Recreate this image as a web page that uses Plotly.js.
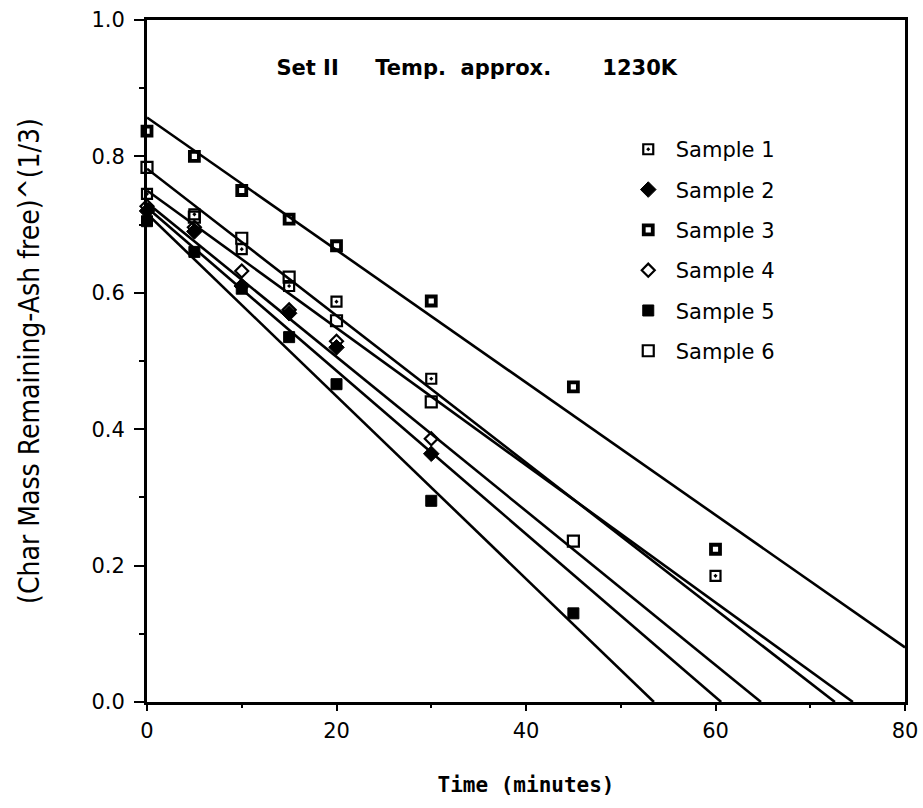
<!DOCTYPE html>
<html>
<head>
<meta charset="utf-8">
<script src="https://cdn.plot.ly/plotly-3.0.1.min.js"></script>
<style>html,body{margin:0;padding:0;background:#fff;}#chart{width:923px;height:808px;}</style>
</head>
<body>
<div id="chart"></div>
<script>
// ---- data ----
const sampleNames = ["Sample 1", "Sample 2", "Sample 3", "Sample 4", "Sample 5", "Sample 6"];

const s1Time = [0, 5, 10, 15, 20, 30, 60];
const s1Val  = [0.745, 0.715, 0.664, 0.61, 0.587, 0.474, 0.185];

const s2Time = [0, 5, 10, 15, 20, 30];
const s2Val  = [0.72, 0.69, 0.61, 0.57, 0.52, 0.364];

const s3Time = [0, 5, 10, 15, 20, 30, 45, 60];
const s3Val  = [0.837, 0.80, 0.75, 0.708, 0.669, 0.588, 0.462, 0.224];

const s4Time = [0, 5, 10, 15, 20, 30];
const s4Val  = [0.727, 0.696, 0.632, 0.575, 0.529, 0.386];

const s5Time = [0, 5, 10, 15, 20, 30, 45];
const s5Val  = [0.705, 0.66, 0.606, 0.535, 0.466, 0.295, 0.13];

const s6Time = [0, 5, 10, 15, 20, 30, 45];
const s6Val  = [0.784, 0.711, 0.68, 0.623, 0.559, 0.44, 0.236];

// fitted straight lines: [start, end] in time and value
const fit1Time = [0, 74.5]; const fit1Val = [0.75, 0];
const fit2Time = [0, 60.6]; const fit2Val = [0.725, 0];
const fit3Time = [0, 80];   const fit3Val = [0.857, 0.08];
const fit4Time = [0, 64.8]; const fit4Val = [0.732, 0];
const fit5Time = [0, 53.5]; const fit5Val = [0.716, 0];
const fit6Time = [0, 72.6]; const fit6Val = [0.782, 0];

const xTicks = [0, 20, 40, 60, 80];
const yTicks = [0.0, 0.2, 0.4, 0.6, 0.8, 1.0];
const yTickText = ["0.0", "0.2", "0.4", "0.6", "0.8", "1.0"];

// ---- styling ----
const ink = "#000000";
const fitTimes = [fit1Time, fit2Time, fit3Time, fit4Time, fit5Time, fit6Time];
const fitVals  = [fit1Val, fit2Val, fit3Val, fit4Val, fit5Val, fit6Val];
const ptTimes = [s1Time, s2Time, s3Time, s4Time, s5Time, s6Time];
const ptVals  = [s1Val, s2Val, s3Val, s4Val, s5Val, s6Val];
const markerStyles = [
  {symbol: "square-open-dot", size: 10, color: ink, line: {color: ink, width: 2.2}},
  {symbol: "diamond", size: 12, color: ink, line: {color: ink, width: 1}},
  {symbol: "square-open", size: 9, color: ink, line: {color: ink, width: 3.8}},
  {symbol: "diamond-open", size: 10, color: ink, line: {color: ink, width: 2.2}},
  {symbol: "square", size: 11, color: ink, line: {color: ink, width: 1}},
  {symbol: "square-open", size: 11, color: ink, line: {color: ink, width: 2.2}}
];

const traces = [];
for (let i = 0; i < 6; i++) {
  traces.push({
    x: fitTimes[i], y: fitVals[i], type: "scatter", mode: "lines",
    line: {color: ink, width: 2.6}, showlegend: false, hoverinfo: "skip", cliponaxis: false
  });
}
for (let i = 0; i < 6; i++) {
  traces.push({
    x: ptTimes[i], y: ptVals[i], type: "scatter", mode: "markers",
    name: sampleNames[i], legendgroup: "g" + i,
    marker: markerStyles[i], cliponaxis: false
  });
}

const tickFont = {family: "DejaVu Sans, sans-serif", size: 21, color: ink};
const sp = n => "\u00A0".repeat(n);

const layout = {
  width: 923, height: 808,
  paper_bgcolor: "#ffffff", plot_bgcolor: "#ffffff",
  margin: {l: 147, r: 18, t: 20, b: 106},
  title: {
    text: "Set II" + sp(5) + "Temp." + sp(2) + "approx." + sp(7) + "1230K",
    font: {family: "DejaVu Sans, sans-serif", size: 21, color: ink, weight: "bold"},
    x: 0.435, xanchor: "center", y: 0.916, yanchor: "middle", xref: "paper"
  },
  xaxis: {
    range: [0, 80], tickvals: xTicks, ticktext: xTicks.map(String),
    ticks: "outside", ticklen: 6, tickwidth: 2, tickcolor: ink,
    minor: {dtick: 10, ticks: "outside", ticklen: 3, tickwidth: 2, tickcolor: ink},
    ticklabelstandoff: 2,
    showline: true, linecolor: ink, linewidth: 3, mirror: true,
    showgrid: false, zeroline: false, tickfont: tickFont,
    title: {text: "Time (minutes)", standoff: 36,
      font: {family: "DejaVu Sans Mono, monospace", size: 21, color: ink, weight: "bold"}}
  },
  yaxis: {
    range: [0, 1.0], tickvals: yTicks, ticktext: yTickText,
    ticks: "outside", ticklen: 10, tickwidth: 2, tickcolor: ink,
    minor: {dtick: 0.1, ticks: "outside", ticklen: 5, tickwidth: 2, tickcolor: ink},
    ticklabelstandoff: 5,
    showline: true, linecolor: ink, linewidth: 3, mirror: true,
    showgrid: false, zeroline: false, tickfont: tickFont,
    title: {text: "(Char Mass Remaining-Ash free)^(1/3)", standoff: 44,
      font: {family: "DejaVu Sans Condensed, DejaVu Sans, sans-serif", size: 28, color: ink}}
  },
  showlegend: true,
  legend: {
    x: 0.625, y: 0.84, xanchor: "left", yanchor: "top",
    bgcolor: "rgba(0,0,0,0)", borderwidth: 0,
    font: {family: "DejaVu Sans, sans-serif", size: 21, color: ink},
    itemwidth: 45,
    traceorder: "grouped", tracegroupgap: 10
  }
};

Plotly.newPlot("chart", traces, layout, {displayModeBar: false, staticPlot: true});
</script>
</body>
</html>
